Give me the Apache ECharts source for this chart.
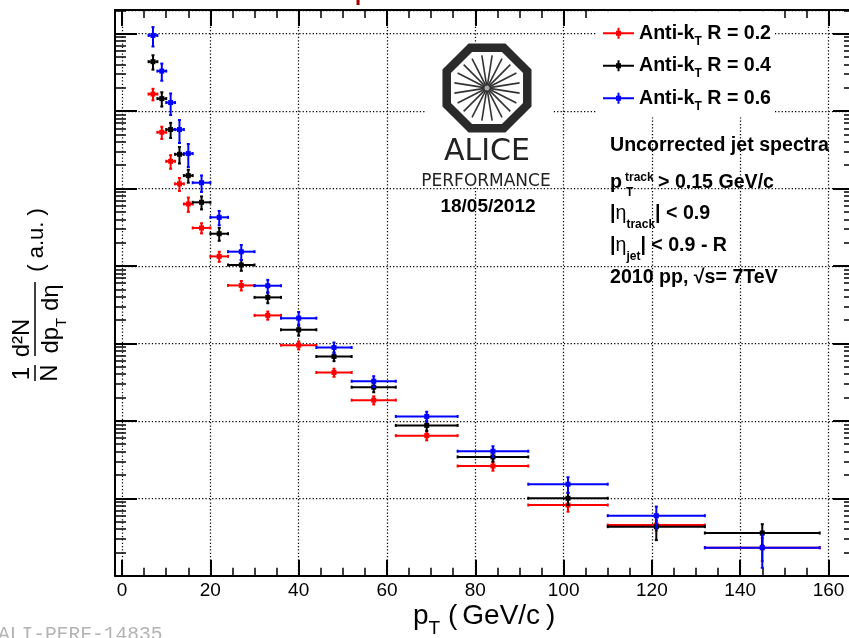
<!DOCTYPE html>
<html><head><meta charset="utf-8">
<script src="https://cdn.jsdelivr.net/npm/echarts@6/dist/echarts.min.js"></script>
<style>html,body{margin:0;padding:0;background:#fff}#c{width:849px;height:638px}</style>
</head><body><div id="c"></div>
<script>
// ---- data ----
const binCenters = [7, 9, 11, 13, 15, 18, 22, 27, 33, 40, 48, 57, 69, 84, 101, 121, 145];
const binLow     = [6, 8, 10, 12, 14, 16, 20, 24, 30, 36, 44, 52, 62, 76, 92, 110, 132];
const binHigh    = [8, 10, 12, 14, 16, 20, 24, 30, 36, 44, 52, 62, 76, 92, 110, 132, 158];
const seriesNames = ['Anti-kT R = 0.2', 'Anti-kT R = 0.4', 'Anti-kT R = 0.6'];
const valuesR02 = [1.66e-2, 5.33e-3, 2.25e-3, 1.15e-3, 6.32e-4, 3.10e-4, 1.33e-4, 5.61e-5, 2.30e-5, 9.5e-6, 4.21e-6, 1.85e-6, 6.44e-7, 2.61e-7, 8.18e-8, 4.5e-8, 2.30e-8];
const valuesR04 = [4.35e-2, 1.45e-2, 5.78e-3, 2.77e-3, 1.47e-3, 6.64e-4, 2.61e-4, 1.03e-4, 3.93e-5, 1.50e-5, 6.78e-6, 2.72e-6, 8.73e-7, 3.42e-7, 1.0e-7, 4.3e-8, 3.56e-8];
const valuesR06 = [9.5e-2, 3.29e-2, 1.29e-2, 5.78e-3, 2.83e-3, 1.19e-3, 4.25e-4, 1.53e-4, 5.56e-5, 2.12e-5, 8.85e-6, 3.25e-6, 1.14e-6, 4.05e-7, 1.52e-7, 5.96e-8, 2.30e-8];
// relative vertical errors
const relErrR02 = [0.17, 0.18, 0.20, 0.19, 0.21, 0.15, 0.15, 0.14, 0.12, 0.12, 0.12, 0.12, 0.13, 0.13, 0.18, 0.15, 0.33];
const relErrR04 = [0.21, 0.21, 0.22, 0.24, 0.19, 0.19, 0.19, 0.16, 0.16, 0.16, 0.13, 0.14, 0.15, 0.13, 0.18, 0.33, 0.30];
const relErrR06 = [0.28, 0.25, 0.31, 0.33, 0.33, 0.24, 0.21, 0.22, 0.19, 0.20, 0.16, 0.16, 0.15, 0.16, 0.23, 0.31, 0.45];
const xTickLabels = [0, 20, 40, 60, 80, 100, 120, 140, 160];
const xMinorTicks = [5, 10, 15, 25, 30, 35, 45, 50, 55, 65, 70, 75, 85, 90, 95, 105, 110, 115, 125, 130, 135, 145, 150, 155, 165];
const yDecades = [1e-8, 1e-7, 1e-6, 1e-5, 1e-4, 1e-3, 1e-2, 1e-1];
const yMinorMultipliers = [2, 3, 4, 5, 6, 7, 8, 9];

// ---- setup ----
const F = '"Liberation Sans", Arial, Helvetica, sans-serif';
const colors = ['#ff0000', '#000000', '#0000ff'];
const xMin = -1.6, xMax = 166;
const yMin = 1e-8, yMax = Math.pow(10, -0.694);
const yMinorTicks = [];
yDecades.forEach(d => yMinorMultipliers.forEach(m => { const v = m * d; if (v > yMin && v < yMax) yMinorTicks.push(v); }));

function buildData(vals, errs) {
  return binCenters.map((x, i) => [x, vals[i], binLow[i], binHigh[i], vals[i] * (1 - errs[i]), vals[i] * (1 + errs[i])]);
}
function makeRender(color) {
  return function (params, api) {
    const x = api.value(0), y = api.value(1);
    const c = api.coord([x, y]);
    const l = api.coord([api.value(2), y]);
    const r = api.coord([api.value(3), y]);
    const lo = api.coord([x, api.value(4)]);
    const hi = api.coord([x, api.value(5)]);
    const st = { stroke: color, lineWidth: 2 };
    const cap = 1.5;
    return {
      type: 'group', children: [
        { type: 'line', shape: { x1: l[0], y1: c[1], x2: r[0], y2: c[1] }, style: st },
        { type: 'line', shape: { x1: c[0], y1: lo[1], x2: c[0], y2: hi[1] }, style: st },
        { type: 'line', shape: { x1: l[0], y1: c[1] - cap, x2: l[0], y2: c[1] + cap }, style: st },
        { type: 'line', shape: { x1: r[0], y1: c[1] - cap, x2: r[0], y2: c[1] + cap }, style: st },
        { type: 'line', shape: { x1: c[0] - cap, y1: lo[1], x2: c[0] + cap, y2: lo[1] }, style: st },
        { type: 'line', shape: { x1: c[0] - cap, y1: hi[1], x2: c[0] + cap, y2: hi[1] }, style: st },
        { type: 'rect', shape: { x: c[0] - 2.5, y: c[1] - 2.5, width: 5, height: 5 }, style: { fill: color } }
      ]
    };
  };
}
const allVals = [valuesR02, valuesR04, valuesR06];
const allErrs = [relErrR02, relErrR04, relErrR06];
const series = seriesNames.map((n, i) => ({
  type: 'custom', name: n, renderItem: makeRender(colors[i]), data: buildData(allVals[i], allErrs[i]),
  encode: { x: [0, 2, 3], y: [1, 4, 5] }, itemStyle: { color: colors[i] }, silent: true, clip: false, z: 3
}));

const gridLine = { show: true, lineStyle: { color: '#000', width: 1.25, type: [1.25, 2.1] } };
const noLabel = { show: false };
function xAx(pos, major) {
  return {
    type: 'value', position: pos, min: xMin, max: xMax, splitNumber: 8,
    axisLine: { show: major, onZero: false, lineStyle: { color: '#000', width: 2 } },
    axisTick: major ? { inside: true, length: 16, customValues: xTickLabels, lineStyle: { color: '#000', width: 2 } }
                    : { inside: true, length: 8, customValues: xMinorTicks, lineStyle: { color: '#000', width: 1.5 } },
    axisLabel: (major && pos === 'bottom') ? { show: true, customValues: xTickLabels, fontSize: 19, fontFamily: F, color: '#000', margin: 6 } : noLabel,
    splitLine: (major && pos === 'bottom') ? gridLine : { show: false }
  };
}
function yAx(pos, major) {
  return {
    type: 'log', position: pos, min: yMin, max: yMax, logBase: 10,
    axisLine: { show: major, onZero: false, lineStyle: { color: '#000', width: 2 } },
    axisTick: major ? { inside: true, length: 22, lineStyle: { color: '#000', width: 2 } }
                    : { inside: true, length: 11, customValues: yMinorTicks, lineStyle: { color: '#000', width: 1.5 } },
    axisLabel: noLabel,
    splitLine: (major && pos === 'left') ? gridLine : { show: false },
    minorTick: { show: false }
  };
}

const TF = 19.6; // annotation font size
const richMain = (fs, lh, w) => ({ fontSize: fs, fontFamily: F, fontWeight: w || 'bold', lineHeight: lh, fill: '#000' });
const richSub = (fs, pad) => ({ fontSize: fs, fontFamily: F, fontWeight: 'bold', lineHeight: fs, padding: [pad, 0, 0, 0], fill: '#000' });

// logo pieces
const logoCx = 487, logoCy = 88;
const octPts = [];
for (let k = 0; k < 8; k++) { const a = (22.5 + 45 * k) * Math.PI / 180; octPts.push([logoCx + 43.6 * Math.cos(a), logoCy + 43.6 * Math.sin(a)]); }
const spokes = [];
for (let k = 0; k < 10; k++) {
  const a = (k * 18 + 9) * Math.PI / 180;
  spokes.push({ type: 'line', z: 6, shape: { x1: logoCx - 33 * Math.cos(a), y1: logoCy - 33 * Math.sin(a), x2: logoCx + 33 * Math.cos(a), y2: logoCy + 33 * Math.sin(a) }, style: { stroke: '#333', lineWidth: 1.6 } });
}

const option = {
  backgroundColor: '#fff',
  animation: false,
  grid: { left: 115, top: 10, right: -6, bottom: 62.3, containLabel: false, outerBoundsMode: 'none' },
  xAxis: [xAx('bottom', true), xAx('top', true), xAx('bottom', false), xAx('top', false)],
  yAxis: [yAx('left', true), yAx('right', true), yAx('left', false), yAx('right', false)],
  legend: {
    orient: 'vertical', left: 596, top: 11.3, padding: [8, 4, 5, 7], backgroundColor: '#fff',
    itemGap: 4.5, itemWidth: 31, itemHeight: 11, selectedMode: false, z: 8,
    data: seriesNames.map((n, i) => ({ name: n, icon: 'path://M0,4.5h31v2h-31zM14.5,0h2v11h-2zM13,3h5v5h-5z', itemStyle: { color: colors[i] } })),
    formatter: name => '{a|Anti-k}{s|T}{a| R = ' + name.split('= ')[1] + '}',
    textStyle: { rich: { a: { fontSize: TF, fontWeight: 'bold', fontFamily: F, lineHeight: 28, color: '#000' }, s: { fontSize: 12, fontWeight: 'bold', fontFamily: F, lineHeight: 12, padding: [16, 0, 0, 0], color: '#000' } } }
  },
  graphic: [
    // white box behind logo
    { type: 'rect', z: 5, shape: { x: 425, y: 43, width: 128, height: 144 }, style: { fill: '#fff' } },
    { type: 'polygon', z: 6, shape: { points: octPts }, style: { fill: 'none', stroke: '#2a2a2a', lineWidth: 8.5 } },
    ...spokes,
    { type: 'circle', z: 7, shape: { cx: logoCx, cy: logoCy, r: 2.5 }, style: { fill: '#aaa' } },
    { type: 'text', z: 6, x: 487, y: 152.3, style: { text: 'ALICE', font: '30px "DejaVu Sans"', fill: '#222', align: 'center', verticalAlign: 'middle' } },
    { type: 'text', z: 6, x: 486, y: 181.6, style: { text: 'PERFORMANCE', font: '17px "DejaVu Sans"', fill: '#222', align: 'center', verticalAlign: 'middle' } },
    { type: 'text', z: 6, x: 488, y: 207, style: { text: '18/05/2012', font: 'bold 19px ' + F, fill: '#000', align: 'center', verticalAlign: 'middle' } },
    // annotation block
    { type: 'text', z: 6, x: 610, y: 145.7, style: { text: 'Uncorrected jet spectra', font: 'bold ' + TF + 'px ' + F, fill: '#000', verticalAlign: 'middle' } },
    { type: 'text', z: 6, x: 610, y: 182.3, style: { text: 'p', font: 'bold ' + TF + 'px ' + F, fill: '#000', verticalAlign: 'middle' } },
    { type: 'text', z: 6, x: 625, y: 177.8, style: { text: 'track', font: 'bold 12px ' + F, fill: '#000', verticalAlign: 'middle' } },
    { type: 'text', z: 6, x: 626, y: 192.9, style: { text: 'T', font: 'bold 12px ' + F, fill: '#000', verticalAlign: 'middle' } },
    { type: 'text', z: 6, x: 658, y: 182.3, style: { text: '> 0.15 GeV/c', font: 'bold ' + TF + 'px ' + F, fill: '#000', verticalAlign: 'middle' } },
    { type: 'text', z: 6, x: 610, y: 214, style: { text: '{b||}{e|η}{s|track}{b|| < 0.9}', verticalAlign: 'middle', rich: { b: richMain(TF, 34), e: richMain(TF, 34, 'normal'), s: richSub(12, 22) } } },
    { type: 'text', z: 6, x: 610, y: 245.7, style: { text: '{b||}{e|η}{s|jet}{b|| < 0.9 - R}', verticalAlign: 'middle', rich: { b: richMain(TF, 34), e: richMain(TF, 34, 'normal'), s: richSub(12, 22) } } },
    { type: 'text', z: 6, x: 610, y: 277.3, style: { text: '2010 pp, √s= 7TeV', font: 'bold ' + TF + 'px ' + F, fill: '#000', verticalAlign: 'middle' } },
    // x axis title
    { type: 'text', z: 6, x: 413, y: 616.3, style: { text: '{m|p}{s|T}{m| (}{g|GeV/c}{m|)}', verticalAlign: 'middle', rich: { m: { fontSize: 28, fontFamily: F, lineHeight: 44, fill: '#000' }, g: { fontSize: 28, fontFamily: F, lineHeight: 44, fill: '#000', padding: [0, 6, 0, 5] }, s: { fontSize: 19, fontFamily: F, lineHeight: 19, padding: [25, 0, 0, 0], fill: '#000' } } } },
    // y axis title (rotated)
    { type: 'group', x: 35, y: 381, rotation: Math.PI / 2, z: 6, children: [
      { type: 'text', x: 7.5, y: -12.5, style: { text: '1', font: '24px ' + F, fill: '#000', align: 'center', verticalAlign: 'middle' } },
      { type: 'line', shape: { x1: 0, y1: 0, x2: 16, y2: 0 }, style: { stroke: '#000', lineWidth: 1.5 } },
      { type: 'text', x: 8, y: 15, style: { text: 'N', font: '24px ' + F, fill: '#000', align: 'center', verticalAlign: 'middle' } },
      { type: 'text', x: 43, y: -12.5, style: { text: 'd²N', font: '24px ' + F, fill: '#000', align: 'center', verticalAlign: 'middle' } },
      { type: 'line', shape: { x1: 25, y1: 0, x2: 99, y2: 0 }, style: { stroke: '#000', lineWidth: 1.5 } },
      { type: 'text', x: 62, y: 16, style: { text: '{m|dp}{s|T}{m| dη}', align: 'center', verticalAlign: 'middle', rich: { m: { fontSize: 24, fontFamily: F, lineHeight: 36, fill: '#000' }, s: { fontSize: 15, fontFamily: F, lineHeight: 15, padding: [22, 0, 0, 0], fill: '#000' } } } },
      { type: 'text', x: 141, y: 2, style: { text: '( a.u. )', font: '22px ' + F, fill: '#000', align: 'center', verticalAlign: 'middle' } }
    ] },
    // watermark
    { type: 'text', z: 6, x: -2, y: 625, style: { text: 'ALI-PERF-14835', font: '19.6px "Liberation Mono", monospace', fill: '#b4b4b4', verticalAlign: 'top' } },
    // cut-off title fragment
    { type: 'text', z: 6, x: 355, y: 5, style: { text: 'p', font: 'bold 22px ' + F, fill: '#a00000', verticalAlign: 'bottom' } }
  ],
  series: series
};
const chart = echarts.init(document.getElementById('c'), null, { renderer: 'canvas', width: 849, height: 638 });
chart.setOption(option);
</script>
</body></html>
